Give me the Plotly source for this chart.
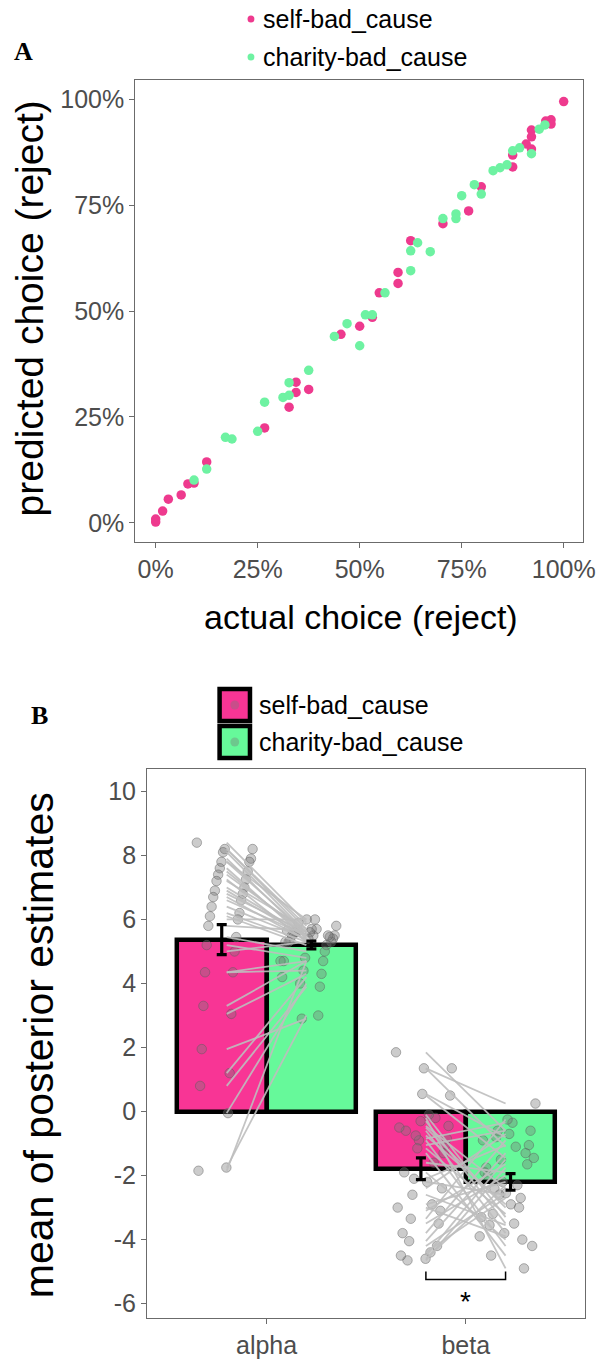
import plotly.graph_objects as go

# ---------------- data: panel A ----------------
self_actual = [1.0, 0.969, 0.969, 0.956, 0.921, 0.921, 0.908, 0.921, 0.875, 0.875, 0.798, 0.767, 0.704,
               0.625, 0.594, 0.594, 0.548, 0.531, 0.5, 0.454, 0.344, 0.344, 0.375, 0.327, 0.267,
               0.125, 0.094, 0.079, 0.0625, 0.031, 0.017, 0.0, 0.0]
self_pred = [0.994, 0.951, 0.941, 0.948, 0.927, 0.911, 0.894, 0.882, 0.868, 0.84, 0.793, 0.736, 0.706,
             0.666, 0.591, 0.565, 0.543, 0.485, 0.464, 0.445, 0.332, 0.308, 0.315, 0.273, 0.224,
             0.144, 0.094, 0.092, 0.066, 0.056, 0.028, 0.009, 0.002]
charity_actual = [0.94, 0.954, 0.921, 0.892, 0.875, 0.861, 0.844, 0.827, 0.781, 0.798, 0.75, 0.736, 0.736,
                  0.704, 0.673, 0.642, 0.625, 0.625, 0.562, 0.514, 0.531, 0.469, 0.438, 0.5, 0.375,
                  0.327, 0.312, 0.327, 0.267, 0.25, 0.171, 0.187, 0.125, 0.094]
charity_pred = [0.929, 0.939, 0.871, 0.885, 0.878, 0.845, 0.838, 0.831, 0.798, 0.776, 0.772, 0.729, 0.718,
                0.718, 0.64, 0.661, 0.642, 0.595, 0.543, 0.491, 0.491, 0.47, 0.44, 0.418, 0.36,
                0.331, 0.296, 0.301, 0.285, 0.216, 0.202, 0.198, 0.127, 0.101]
pct_ticks = [0, 0.25, 0.5, 0.75, 1.0]
pct_labels = ["0%", "25%", "50%", "75%", "100%"]

# ---------------- data: panel B ----------------
params = ["alpha", "beta"]
mean_self = [5.37, -1.79]
se_self = [0.47, 0.34]
mean_charity = [5.2, -2.2]
se_charity = [0.12, 0.26]

alpha_self = [8.4, 8.2, 8.2, 8.1, 7.9, 7.8, 7.8, 7.6, 7.5, 7.4, 7.25, 7.2, 7.0, 6.9, 6.8, 6.7, 6.6, 6.4,
              6.2, 6.1, 6.0, 5.8, 5.45, 5.2, 5.0, 4.35, 4.35, 3.3, 3.05, 1.95, 1.2, 0.8, -0.05, -1.85, -1.75]
alpha_charity = [5.9, 5.8, 5.7, 5.6, 5.5, 6.0, 5.6, 5.4, 5.5, 5.6, 5.3, 5.7, 5.5, 5.45, 5.6, 5.35, 5.5, 5.4,
                 5.3, 5.2, 6.0, 5.65, 5.0, 4.8, 5.3, 4.7, 4.4, 4.7, 4.3, 2.9, 4.2, 3.9, 4.0, 4.7, 3.0]
beta_self = [1.85, 1.35, 1.35, 0.55, 0.5, -0.3, -0.45, -0.9, -0.85, -1.15, -1.05, -0.75, -1.3, -2.1, -2.4,
             -2.6, -3.1, -3.35, -3.5, -4.05, -4.2, -4.65, -0.2, -0.6, -1.6, -1.9, -2.9, -3.8, -4.4, -4.5,
             -0.1, -0.5, -2.2, -3.0, -4.6]
beta_charity = [-0.6, 0.25, -1.1, -0.8, -1.45, -3.5, -2.4, -4.2, -0.35, -3.2, -0.6, -2.9, -4.5, -1.05, -0.7,
                -3.55, -1.65, -0.25, -2.0, -1.3, -2.55, -1.75, -4.9, -3.8, -1.9, -4.0, -2.2, -0.9, -2.7, -1.5,
                -3.3, -3.0, -2.6, -3.9, -2.3]
y2_ticks = [-6, -4, -2, 0, 2, 4, 6, 8, 10]

series_names = ["self-bad_cause", "charity-bad_cause"]

# ---------------- styles ----------------
W, H = 609, 1365
FONT = "Liberation Sans, Arial, sans-serif"
PINK_PT, GREEN_PT = "#EE3A8E", "#6EF2A2"
PINK_BAR, GREEN_BAR = "#F83595", "#66F99A"
TICK_COL = "#4D4D4D"

def px(x):
    return x / W

def py(y):
    return 1 - y / H

fig = go.Figure()

# Panel A scatter
fig.add_trace(go.Scatter(x=self_actual, y=self_pred, mode="markers", xaxis="x", yaxis="y",
                         marker=dict(color=PINK_PT, size=9.5), showlegend=False))
fig.add_trace(go.Scatter(x=charity_actual, y=charity_pred, mode="markers", xaxis="x", yaxis="y",
                         marker=dict(color=GREEN_PT, size=9.5), showlegend=False))

# Panel B bars
half = 0.225
for vals, col, off in [(mean_self, PINK_BAR, -half), (mean_charity, GREEN_BAR, half)]:
    fig.add_trace(go.Bar(x=[i + 1 + off for i in range(len(params))], y=vals, width=2 * half,
                         xaxis="x2", yaxis="y2", marker=dict(color=col, line=dict(color="black", width=4.5)),
                         showlegend=False))

# individual points + connecting lines
n = len(alpha_self)
jit1 = [(((i * 17) % n) / (n - 1) - 0.5) * 0.28 for i in range(n)]
jit2 = [(((i * 23 + 11) % n) / (n - 1) - 0.5) * 0.28 for i in range(n)]
pt_style = dict(color="rgba(120,120,120,0.38)", size=9.5, line=dict(color="rgba(90,90,90,0.45)", width=1))
for k, (sv, cv) in enumerate([(alpha_self, alpha_charity), (beta_self, beta_charity)], start=1):
    xs = [k - 0.21 + j for j in jit1] + [k + 0.21 + j for j in jit2]
    fig.add_trace(go.Scatter(x=xs, y=sv + cv, mode="markers", xaxis="x2", yaxis="y2",
                             marker=pt_style, showlegend=False))
    lx, ly = [], []
    for a, b in zip(sv, cv):
        lx += [k - 0.2, k + 0.2, None]
        ly += [a, b, None]
    fig.add_trace(go.Scatter(x=lx, y=ly, mode="lines", xaxis="x2", yaxis="y2",
                             line=dict(color="rgba(190,190,190,0.9)", width=1.8), showlegend=False))

# error bars on top
for vals, ses, off in [(mean_self, se_self, -half), (mean_charity, se_charity, half)]:
    fig.add_trace(go.Scatter(x=[i + 1 + off for i in range(len(params))], y=vals, mode="markers",
                             xaxis="x2", yaxis="y2", marker=dict(size=1, color="rgba(0,0,0,0)"),
                             error_y=dict(type="data", array=ses, color="black", thickness=3.2, width=5),
                             showlegend=False))

axis_common = dict(showgrid=False, zeroline=False, showline=True, mirror=True, linecolor="#6b6b6b",
                   linewidth=1, ticks="outside", ticklen=5, tickcolor="#6b6b6b",
                   tickfont=dict(family=FONT, size=25, color=TICK_COL))

fig.update_layout(
    width=W, height=H, margin=dict(l=0, r=0, t=0, b=0),
    paper_bgcolor="white", plot_bgcolor="white", showlegend=False, bargap=0,
    xaxis=dict(domain=[px(138), px(595)], range=[-0.05, 1.048], anchor="y",
               tickvals=pct_ticks, ticktext=pct_labels, **axis_common),
    yaxis=dict(domain=[py(542), py(80)], range=[-0.045, 1.045], anchor="x",
               tickvals=pct_ticks, ticktext=pct_labels, **axis_common),
    xaxis2=dict(domain=[px(150), px(597)], range=[0.4, 2.6], anchor="y2",
                tickvals=[1, 2], ticktext=params, **axis_common),
    yaxis2=dict(domain=[py(1318), py(769)], range=[-6.45, 10.7], anchor="x2",
                tickvals=y2_ticks, ticktext=[str(v) for v in y2_ticks], **axis_common),
)

ann = []
shapes = []
# panel letters
ann.append(dict(text="<b>A</b>", x=px(12), y=py(52), xref="paper", yref="paper", xanchor="left",
                yanchor="middle", showarrow=False, font=dict(family="Liberation Serif", size=26, color="black")))
ann.append(dict(text="<b>B</b>", x=px(30), y=py(715), xref="paper", yref="paper", xanchor="left",
                yanchor="middle", showarrow=False, font=dict(family="Liberation Serif", size=26, color="black")))
# axis titles
ann.append(dict(text="predicted choice (reject)", x=px(31), y=py(308), xref="paper", yref="paper",
                textangle=-90, showarrow=False, xanchor="center", yanchor="middle",
                font=dict(family=FONT, size=39, color="black")))
ann.append(dict(text="actual choice (reject)", x=px(368), y=py(617), xref="paper", yref="paper",
                showarrow=False, xanchor="center", yanchor="middle",
                font=dict(family=FONT, size=34, color="black")))
ann.append(dict(text="mean of posterior estimates", x=px(40), y=py(1045), xref="paper", yref="paper",
                textangle=-90, showarrow=False, xanchor="center", yanchor="middle",
                font=dict(family=FONT, size=41, color="black")))

# legend A
for name, col, yc in [(series_names[0], PINK_PT, 19), (series_names[1], GREEN_PT, 57)]:
    shapes.append(dict(type="circle", xref="paper", yref="paper", x0=px(252.5), x1=px(259.5),
                       y0=py(yc + 3.5), y1=py(yc - 3.5), fillcolor=col, line=dict(width=0)))
    ann.append(dict(text=name, x=px(266), y=py(yc), xref="paper", yref="paper", xanchor="left",
                    yanchor="middle", showarrow=False, font=dict(family=FONT, size=25, color="black")))

# legend B
for name, col, y0 in [(series_names[0], PINK_BAR, 689), (series_names[1], GREEN_BAR, 726)]:
    shapes.append(dict(type="rect", xref="paper", yref="paper", x0=px(224), x1=px(255),
                       y0=py(y0 + 32), y1=py(y0), fillcolor=col, line=dict(color="black", width=4.5)))
    shapes.append(dict(type="circle", xref="paper", yref="paper", x0=px(235), x1=px(244),
                       y0=py(y0 + 20.5), y1=py(y0 + 11.5), fillcolor="rgba(120,120,120,0.38)",
                       line=dict(width=0)))
    ann.append(dict(text=name, x=px(262), y=py(y0 + 16), xref="paper", yref="paper", xanchor="left",
                    yanchor="middle", showarrow=False, font=dict(family=FONT, size=25, color="black")))

# significance bracket
shapes.append(dict(type="path", xref="x2", yref="y2", path="M 1.8,-5.0 L 1.8,-5.25 L 2.2,-5.25 L 2.2,-5.0",
                   line=dict(color="black", width=1.5)))
ann.append(dict(text="*", x=2.0, y=-5.95, xref="x2", yref="y2", showarrow=False,
                font=dict(family=FONT, size=28, color="black")))

fig.update_layout(annotations=ann, shapes=shapes)
fig.write_html("out.html")
